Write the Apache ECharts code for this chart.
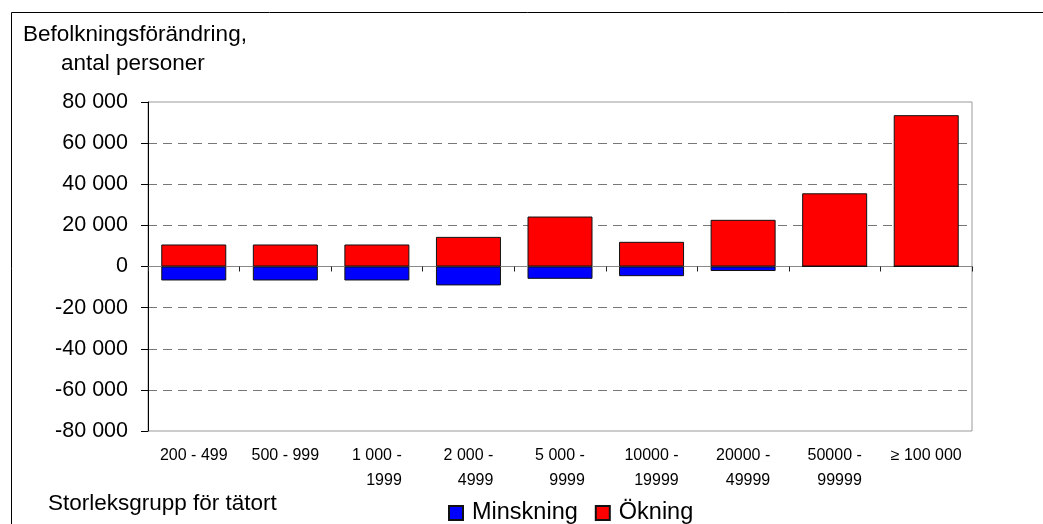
<!DOCTYPE html>
<html>
<head>
<meta charset="utf-8">
<script src="https://cdn.jsdelivr.net/npm/echarts@6/dist/echarts.min.js"></script>
<style>
  html, body { margin: 0; padding: 0; background: #fff; }
</style>
</head>
<body>
<div id="main" style="width: 1043px;height: 524px;background: #fff"></div>
<script>
// storleksgrupper
var categories = ['200 - 499', '500 - 999', '1 000 -\n1999', '2 000 -\n4999', '5 000 -\n9999',
  '10000 -\n19999', '20000 -\n49999', '50000 -\n99999', '≥ 100 000']
var okning = [10700, 10700, 10700, 14400, 24300, 12000, 22700, 35600, 73600]
var minskning = [-6800, -6800, -6800, -9200, -6000, -4700, -2200, 0, 0]
var yTicks = [-80000, -60000, -40000, -20000, 0, 20000, 40000, 60000, 80000]

var font = 'Liberation Sans, Arial, sans-serif'

function fmtNum (v) {
  var s = String(Math.abs(v)).replace(/\B(?=(\d{3})+(?!\d))/g, ' ')
  return (v < 0 ? '-' : '') + s
}

var mychart = echarts.init(document.getElementById('main'))
var option = {
  animation: false,
  backgroundColor: '#fff',
  grid: {
    left: 148,
    right: 71,
    top: 102,
    bottom: 93,
    show: true,
    borderColor: '#999',
    borderWidth: 1
  },
  legend: {
    data: ['Minskning', 'Ökning'],
    left: 443,
    top: 496,
    itemWidth: 14,
    itemHeight: 14,
    itemGap: 17,
    icon: 'rect',
    textStyle: { fontFamily: font, fontSize: 23.5, color: '#000', padding: [0, 0, 0, 4] }
  },
  graphic: [
    { type: 'rect', shape: { x: 11.5, y: 12.5, width: 1100, height: 600 }, style: { fill: 'none', stroke: '#000', lineWidth: 1 }, z: -1 },
    { type: 'text', left: 23, top: 23, style: { text: 'Befolkningsförändring,', font: '22.5px ' + font, fill: '#000' } },
    { type: 'text', left: 61, top: 52, style: { text: 'antal personer', font: '22.5px ' + font, fill: '#000' } },
    { type: 'text', left: 48, top: 492, style: { text: 'Storleksgrupp för tätort', font: '22.5px ' + font, fill: '#000' } }
  ],
  xAxis: [
    {
      type: 'category',
      data: categories,
      position: 'bottom',
      axisLine: { show: false, onZero: false },
      axisTick: { show: false },
      axisLabel: {
        margin: 12,
        interval: 0,
        formatter: function (v) {
          return v.split('\n').map(function (l) { return '{r|' + l + '}' }).join('\n')
        },
        rich: {
          r: { align: 'right', fontFamily: font, fontSize: 16, color: '#000', lineHeight: 25 }
        }
      }
    },
    {
      type: 'category',
      data: categories,
      position: 'bottom',
      axisLine: { show: true, onZero: true, lineStyle: { color: '#888', width: 1 } },
      axisTick: { show: true, length: 5, lineStyle: { color: '#222' } },
      axisLabel: { show: false }
    }
  ],
  yAxis: {
    type: 'value',
    min: yTicks[0],
    max: yTicks[yTicks.length - 1],
    interval: 20000,
    axisLine: { show: true, lineStyle: { color: '#000', width: 1 } },
    axisTick: { show: true, length: 7, lineStyle: { color: '#000' } },
    axisLabel: {
      margin: 20,
      formatter: fmtNum,
      fontFamily: font,
      fontSize: 21.5,
      color: '#000'
    },
    splitLine: {
      show: true,
      showMinLine: false,
      showMaxLine: false,
      lineStyle: { color: '#777', type: [9, 6], width: 1 }
    }
  },
  series: [
    {
      name: 'Minskning',
      type: 'bar',
      stack: 'tot',
      barWidth: 65,
      data: minskning,
      itemStyle: { color: '#0000ff', borderColor: '#111', borderWidth: 1 }
    },
    {
      name: 'Ökning',
      type: 'bar',
      stack: 'tot',
      barWidth: 65,
      data: okning,
      itemStyle: { color: '#ff0000', borderColor: '#111', borderWidth: 1 }
    }
  ]
}
mychart.setOption(option)
</script>
</body>
</html>
